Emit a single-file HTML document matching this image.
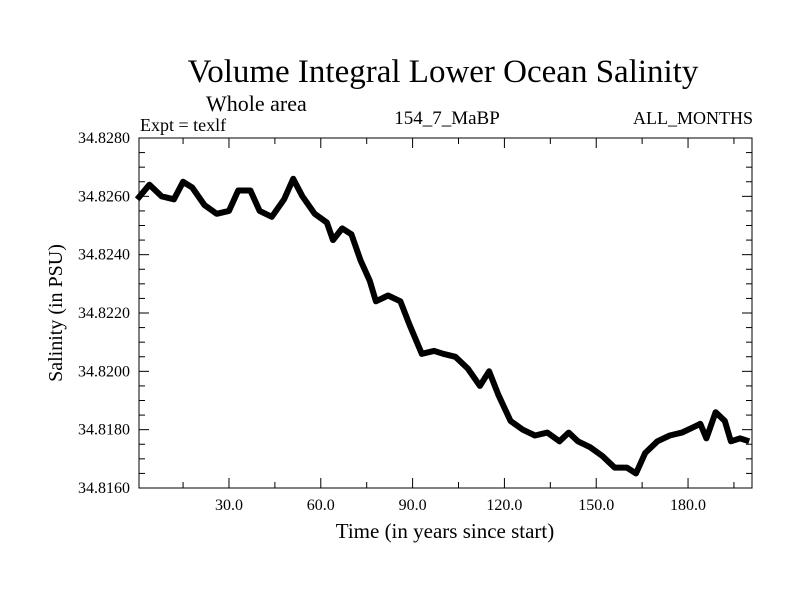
<!DOCTYPE html>
<html><head><meta charset="utf-8"><style>
body{margin:0;background:#fff}
svg text{font-family:"Liberation Serif",serif;fill:#000}
</style></head><body>
<svg width="800" height="600" xmlns="http://www.w3.org/2000/svg">
<rect width="800" height="600" fill="#fff"/>
<text x="443" y="82" font-size="33" text-anchor="middle">Volume Integral Lower Ocean Salinity</text>
<text x="206" y="111" font-size="22">Whole area</text>
<text x="140" y="131" font-size="18">Expt = texlf</text>
<text x="447" y="124" font-size="19" text-anchor="middle">154_7_MaBP</text>
<text x="753" y="124" font-size="18" text-anchor="end">ALL_MONTHS</text>
<g id="axes"></g>
<text x="445" y="538" font-size="21" text-anchor="middle">Time (in years since start)</text>
<text transform="translate(62,313) rotate(-90)" font-size="20" text-anchor="middle">Salinity (in PSU)</text>
</svg>
<script>
const years=[0,4,8,12,15,18,22,26,30,33,37,40,44,48,51,54,58,62,64,67,70,73,76,78,82,86,89,93,97,100,104,108,112,115,118,122,126,130,134,138,141,144,148,152,156,160,163,166,170,174,178,182,184,186,189,192,194,197,200];
const salinity=[34.8259,34.8264,34.8260,34.8259,34.8265,34.8263,34.8257,34.8254,34.8255,34.8262,34.8262,34.8255,34.8253,34.8259,34.8266,34.8260,34.8254,34.8251,34.8245,34.8249,34.8247,34.8238,34.8231,34.8224,34.8226,34.8224,34.8216,34.8206,34.8207,34.8206,34.8205,34.8201,34.8195,34.8200,34.8192,34.8183,34.8180,34.8178,34.8179,34.8176,34.8179,34.8176,34.8174,34.8171,34.8167,34.8167,34.8165,34.8172,34.8176,34.8178,34.8179,34.8181,34.8182,34.8177,34.8186,34.8183,34.8176,34.8177,34.8176];
const xTicks=[30,60,90,120,150,180];
const xTickLabels=["30.0","60.0","90.0","120.0","150.0","180.0"];
const yTicks=[34.816,34.818,34.820,34.822,34.824,34.826,34.828];
const yTickLabels=["34.8160","34.8180","34.8200","34.8220","34.8240","34.8260","34.8280"];
const L=139,R=752,T=138,B=488,X0=0.6,X1=200.9,Y0=34.816,Y1=34.828;
const xs=v=>L+(v-X0)/(X1-X0)*(R-L);
const ys=v=>B-(v-Y0)/(Y1-Y0)*(B-T);
const NS="http://www.w3.org/2000/svg";
const g=document.getElementById('axes');
function mk(t,a){const e=document.createElementNS(NS,t);for(const k in a)e.setAttribute(k,a[k]);g.appendChild(e);return e;}
const frame=mk('rect',{x:L,y:T,width:R-L,height:B-T,fill:'none',stroke:'#000','stroke-width':1});


for(let v=15;v<X1;v+=15){const major=v%30===0;const len=major?10:6;
 const t1=mk('line',{x1:xs(v),x2:xs(v),y1:B,y2:B-len,stroke:'#000'});
 
 
 const t2=mk('line',{x1:xs(v),x2:xs(v),y1:T,y2:T+len,stroke:'#000'});
 
 }
for(let i=0;i<=24;i++){const v=Y0+i*0.0005;const major=i%4===0;const len=major?10:6;
 const t1=mk('line',{x1:L,x2:L+len,y1:ys(v),y2:ys(v),stroke:'#000'});
 
 
 const t2=mk('line',{x1:R,x2:R-len,y1:ys(v),y2:ys(v),stroke:'#000'});
 
 }
xTicks.forEach((v,i)=>{const t=mk('text',{x:xs(v),y:510,'font-size':16,'text-anchor':'middle'});t.textContent=xTickLabels[i];
 
 });
yTicks.forEach((v,i)=>{const t=mk('text',{x:130,y:ys(v)+5,'font-size':16,'text-anchor':'end'});t.textContent=yTickLabels[i];
 
 });
const d=years.map((y,i)=>(i?'L':'M')+xs(y).toFixed(1)+','+ys(salinity[i]).toFixed(1)).join(' ');
const p=mk('path',{d:d,fill:'none',stroke:'#000','stroke-width':6,'stroke-linejoin':'round'});


</script>
</body></html>
